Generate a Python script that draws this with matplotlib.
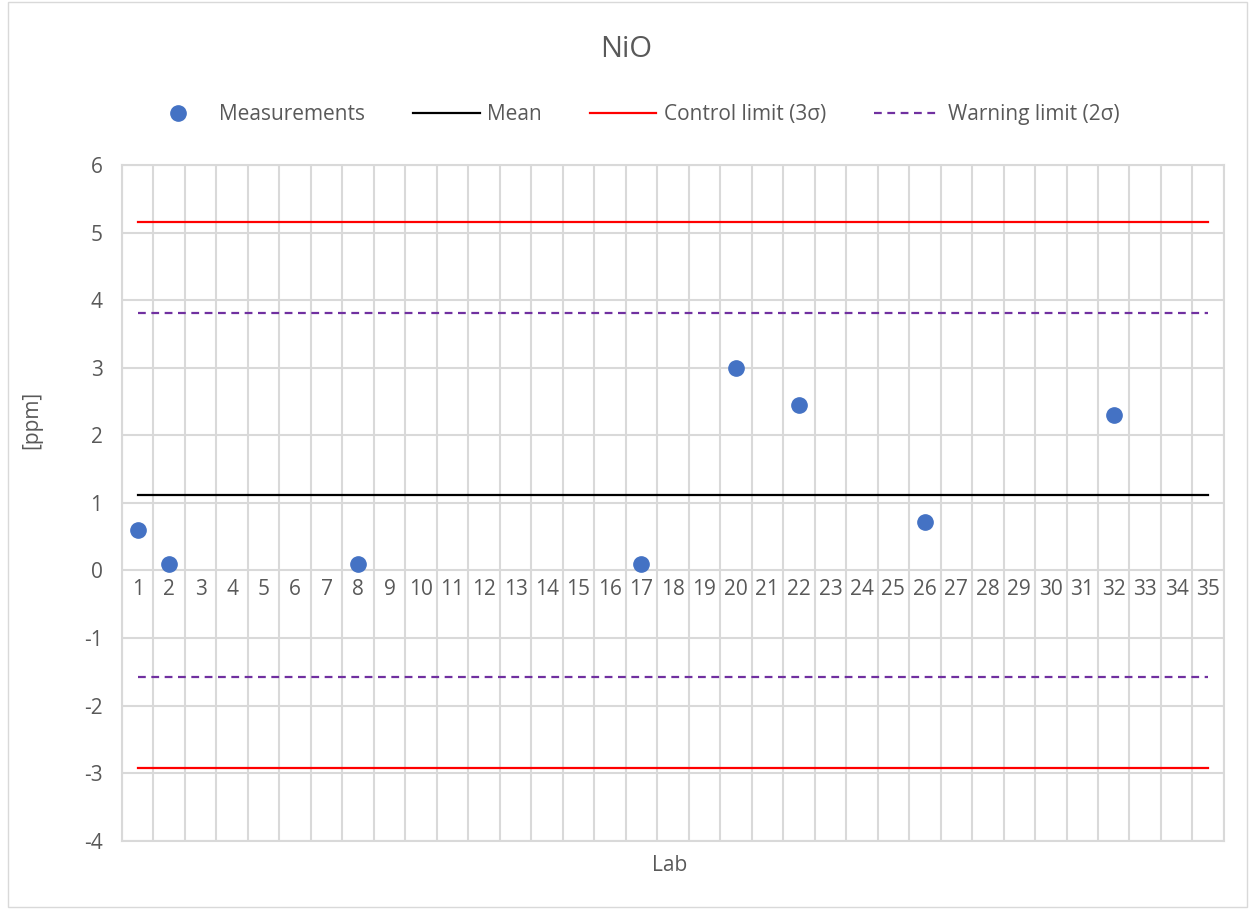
import numpy as np
import matplotlib.pyplot as plt
from matplotlib.lines import Line2D
from matplotlib.patches import Rectangle

plt.rcParams['font.family'] = ['Open Sans', 'DejaVu Sans']

# lab labels on the category axis
labs = [str(i) for i in range(1, 36)]
# measured labs and their values [ppm]
meas_labs = [1, 2, 8, 17, 20, 22, 26, 32]
meas_vals = [0.60, 0.10, 0.10, 0.10, 3.00, 2.45, 0.72, 2.30]
mean_val = 1.12
control_lo, control_hi = -2.92, 5.16
warning_lo, warning_hi = -1.57, 3.81

txt = '#595959'
grid = '#D9D9D9'
fs = 15

fig = plt.figure(figsize=(12.52, 9.09), dpi=100)
ax = fig.add_axes([0.0974, 0.075, 0.8802, 0.7435])

x = np.arange(1, len(labs) + 1)
xl = [x[0], x[-1]]

ax.plot(xl, [control_hi] * 2, color='#FF0000', lw=1.6, zorder=3)
ax.plot(xl, [control_lo] * 2, color='#FF0000', lw=1.6, zorder=3)
ax.plot(xl, [warning_hi] * 2, color='#7030A0', lw=1.6, ls=(0, (3.5, 2.5)), zorder=3)
ax.plot(xl, [warning_lo] * 2, color='#7030A0', lw=1.6, ls=(0, (3.5, 2.5)), zorder=3)
ax.plot(xl, [mean_val] * 2, color='black', lw=1.6, zorder=3)
pos = [labs.index(str(m)) + 1 for m in meas_labs]
ax.plot(pos, meas_vals, 'o', color='#4472C4', ms=11, mec='#4472C4', zorder=4)

ax.set_xlim(0.5, len(labs) + 0.5)
ax.set_ylim(-4, 6)
ax.set_yticks(np.arange(-4, 7, 1))
ax.set_yticklabels([str(v) for v in range(-4, 7)])
ax.set_xticks(np.arange(0.5, len(labs) + 1, 1), minor=False)
ax.set_xticklabels([])
ax.grid(True, color=grid, lw=1.5, zorder=0)
ax.set_axisbelow(True)
for s in ax.spines.values():
    s.set_color(grid)
    s.set_linewidth(1.5)
ax.tick_params(length=0, labelsize=fs, colors=txt, pad=14)

# category labels sit just below the zero line
for xi, lab in zip(x, labs):
    ax.text(xi, -0.12, lab, ha='center', va='top', fontsize=fs, color=txt)

fig.text(0.535, 0.048, 'Lab', ha='center', va='center', fontsize=fs, color=txt)
fig.text(0.025, 0.538, '[ppm]', ha='center', va='center', rotation=90, fontsize=fs, color=txt)
fig.text(0.5, 0.945, 'NiO', ha='center', va='center', fontsize=21, color=txt)

handles = [
    Line2D([], [], ls='none', marker='o', color='#4472C4', ms=11),
    Line2D([], [], color='black', lw=1.6),
    Line2D([], [], color='#FF0000', lw=1.6),
    Line2D([], [], color='#7030A0', lw=1.6, ls=(0, (3.5, 2.5))),
]
names = ['Measurements', 'Mean', 'Control limit (3σ)', 'Warning limit (2σ)']
fig.legend(handles, names, loc='center', bbox_to_anchor=(0.505, 0.874), ncol=4,
           frameon=False, fontsize=fs, labelcolor=txt, handlelength=3.2,
           columnspacing=2.3, handletextpad=0.35)

fig.patches.append(Rectangle((0.006, 0.002), 0.99, 0.996, transform=fig.transFigure,
                             fill=False, ec=grid, lw=1))

fig.savefig('out.png', dpi=100)
